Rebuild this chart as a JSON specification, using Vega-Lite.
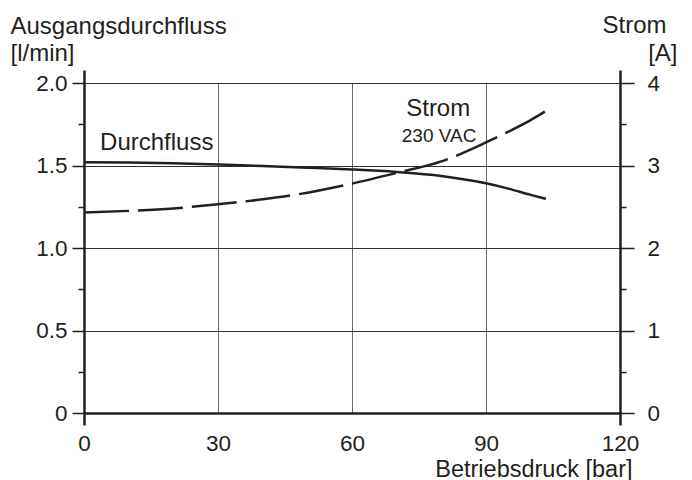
{
  "$schema": "https://vega.github.io/schema/vega-lite/v6.json",
  "width": 536,
  "height": 330,
  "autosize": "none",
  "padding": {"left": 84, "top": 83, "right": 72, "bottom": 67},
  "config": {
    "view": {"stroke": null},
    "font": "Liberation Sans",
    "axis": {
      "labelFont": "Liberation Sans",
      "labelFontSize": 22.5,
      "labelColor": "#231f20",
      "titleFont": "Liberation Sans",
      "titleFontSize": 24,
      "titleFontWeight": "normal",
      "titleColor": "#231f20",
      "domainColor": "#231f20",
      "tickColor": "#231f20"
    }
  },
  "datasets": {
    "flow": [
      {"p": 0, "q": 1.52},
      {"p": 10, "q": 1.518},
      {"p": 20, "q": 1.513},
      {"p": 30, "q": 1.506},
      {"p": 40, "q": 1.497},
      {"p": 50, "q": 1.487},
      {"p": 60, "q": 1.476},
      {"p": 70, "q": 1.461},
      {"p": 80, "q": 1.437},
      {"p": 90, "q": 1.392},
      {"p": 95, "q": 1.36},
      {"p": 100, "q": 1.322},
      {"p": 103.4, "q": 1.298}
    ],
    "strom": [
      {"p": 0, "i": 2.43},
      {"p": 10, "i": 2.45},
      {"p": 20, "i": 2.48},
      {"p": 30, "i": 2.53},
      {"p": 40, "i": 2.59},
      {"p": 50, "i": 2.67},
      {"p": 60, "i": 2.78},
      {"p": 70, "i": 2.91},
      {"p": 80, "i": 3.05},
      {"p": 90, "i": 3.28},
      {"p": 95, "i": 3.41},
      {"p": 100, "i": 3.55},
      {"p": 103.4, "i": 3.66}
    ],
    "labelFlow": [
      {"label": "Durchfluss", "x": 3.6, "y": 1.594}
    ],
    "labelStrom": [
      {"label": "Strom", "x": 79.3, "y": 1.8}
    ],
    "labelVac": [
      {"label": "230 VAC", "x": 79.5, "y": 1.644}
    ]
  },
  "layer": [
    {
      "data": {"name": "flow"},
      "mark": {"type": "line", "interpolate": "monotone", "color": "#231f20", "strokeWidth": 2.5},
      "encoding": {
        "x": {
          "field": "p", "type": "quantitative",
          "scale": {"domain": [0, 120]},
          "axis": {
            "orient": "bottom", "values": [0, 30, 60, 90, 120],
            "ticks": false, "tickSize": 0, "labelPadding": 19, "labelFlush": false,
            "domainWidth": 2.5, "grid": true, "gridWidth": 1, "gridColor": "#666",
            "title": "Betriebsdruck [bar]", "titleFontSize": 23.5, "titleAlign": "right", "titleAnchor": "end",
            "titleX": 548, "titleY": 63, "titleBaseline": "alphabetic"
          }
        },
        "y": {
          "field": "q", "type": "quantitative",
          "scale": {"domain": [0, 2]},
          "axis": {
            "orient": "left", "values": [0, 0.5, 1, 1.5, 2],
            "labelExpr": "datum.value == 0 ? '0' : format(datum.value, '.1f')",
            "tickSize": 12, "tickWidth": 1.5, "labelPadding": 5,
            "domainWidth": 2.5, "grid": true, "gridWidth": 1, "gridColor": "#333",
            "title": ["Ausgangsdurchfluss", "[l/min]"], "titleAngle": 0,
            "titleAlign": "left", "titleBaseline": "alphabetic",
            "titleX": -74, "titleY": -50, "titleLineHeight": 27
          }
        }
      }
    },
    {
      "data": {"name": "strom"},
      "mark": {"type": "line", "interpolate": "monotone", "color": "#231f20", "strokeWidth": 2.5, "strokeDash": [45, 9]},
      "encoding": {
        "x": {
          "field": "p", "type": "quantitative",
          "scale": {"domain": [0, 120]},
          "axis": {
            "orient": "top", "values": [0, 120], "tickSize": 13, "tickWidth": 2.5,
            "labels": false, "domain": false, "grid": false, "title": null
          }
        },
        "y": {
          "field": "i", "type": "quantitative",
          "scale": {"domain": [0, 4]},
          "axis": {
            "orient": "right", "values": [0, 1, 2, 3, 4],
            "tickSize": 14, "tickWidth": 1.5, "labelPadding": 13,
            "domainWidth": 2.5, "grid": false,
            "title": "Strom", "titleAngle": 0,
            "titleAlign": "right", "titleBaseline": "alphabetic",
            "titleX": 46, "titleY": -51
          }
        }
      }
    },
    {
      "data": {"name": "labelFlow"},
      "mark": {"type": "text", "align": "left", "baseline": "alphabetic", "fontSize": 24, "font": "Liberation Sans", "color": "#231f20"},
      "encoding": {
        "x": {
          "field": "x", "type": "quantitative",
          "scale": {"domain": [0, 120]},
          "axis": {
            "orient": "bottom", "values": [0, 120], "tickSize": 12, "tickWidth": 2.5,
            "labels": false, "domain": false, "grid": false, "title": null
          }
        },
        "y": {
          "field": "y", "type": "quantitative",
          "scale": {"domain": [0, 2]},
          "axis": {
            "orient": "left", "values": [0.25, 0.75, 1.25, 1.75], "tickSize": 6, "tickWidth": 1.5,
            "labels": false, "domain": false, "grid": false, "title": null
          }
        },
        "text": {"field": "label"}
      }
    },
    {
      "data": {"name": "labelStrom"},
      "mark": {"type": "text", "align": "center", "baseline": "alphabetic", "fontSize": 24, "font": "Liberation Sans", "color": "#231f20"},
      "encoding": {
        "x": {
          "field": "x", "type": "quantitative",
          "scale": {"domain": [0, 120]},
          "axis": null
        },
        "y": {
          "field": "y", "type": "quantitative",
          "scale": {"domain": [0, 2]},
          "axis": {
            "orient": "right", "values": [0.25, 0.75, 1.25, 1.75], "tickSize": 6, "tickWidth": 1.5,
            "labels": false, "domain": false, "grid": false, "title": null
          }
        },
        "text": {"field": "label"}
      }
    },
    {
      "data": {"name": "labelVac"},
      "mark": {"type": "text", "baseline": "alphabetic", "align": "center", "fontSize": 19, "font": "Liberation Sans", "color": "#231f20"},
      "encoding": {
        "x": {
          "field": "x", "type": "quantitative",
          "scale": {"domain": [0, 120]},
          "axis": null
        },
        "y": {
          "field": "y", "type": "quantitative",
          "scale": {"domain": [0, 2]},
          "axis": {
            "orient": "right", "values": [], "ticks": false,
            "labels": false, "domain": false, "grid": false,
            "title": "[A]", "titleAngle": 0,
            "titleAlign": "right", "titleBaseline": "alphabetic",
            "titleX": 57, "titleY": -23
          }
        },
        "text": {"field": "label"}
      }
    }
  ],
  "resolve": {
    "scale": {"x": "independent", "y": "independent"},
    "axis": {"x": "independent", "y": "independent"}
  }
}
